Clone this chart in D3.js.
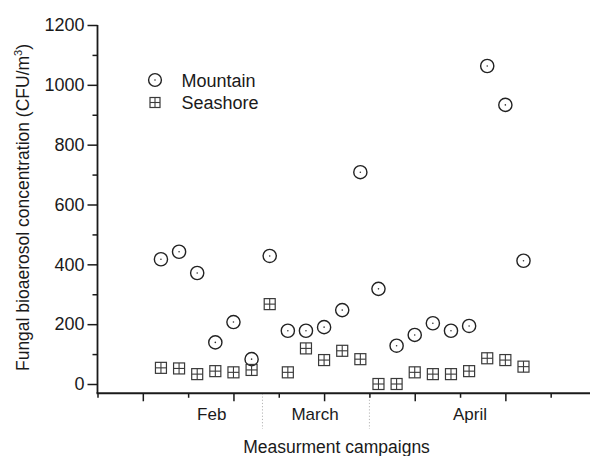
<!DOCTYPE html>
<html>
<head>
<meta charset="utf-8">
<script src="https://cdn.jsdelivr.net/npm/d3@7/dist/d3.min.js"></script>
<style>
  html, body { margin: 0; padding: 0; background: #fff; }
  svg { display: block; }
  text { font-family: "Liberation Sans", Arial, sans-serif; fill: #1a1a1a; }
</style>
</head>
<body>
<svg id="chart" width="590" height="456"></svg>
<script>
// ---- data ----
const campaigns = [1, 2, 3, 4, 5, 6, 7, 8, 9, 10, 11, 12, 13, 14, 15, 16, 17, 18, 19, 20, 21];
const mountain  = [417, 442, 371, 139, 207, 83, 428, 178, 178, 190, 247, 708, 318, 128, 164, 203, 178, 194, 1063, 933, 412];
const seashore  = [54, 52, 33, 43, 39, 47, 267, 39, 119, 80, 111, 83, 0, 0, 39, 33, 33, 43, 86, 80, 58];
const yTicks    = [0, 200, 400, 600, 800, 1000, 1200];
const months    = ["Feb", "March", "April"];
const monthPos  = [3.8, 9.5, 18.05];
const separators = [6.6, 12.5];

// ---- layout ----
const svg = d3.select("#chart");
const x = d3.scaleLinear().domain([-2.5, 25]).range([97.5, 596]);
const y = d3.scaleLinear().domain([0, 1200]).range([384, 25]);
const yBottom = y(-31);
const axisColor = "#1a1a1a";

// separators (dotted)
svg.selectAll("line.sep").data(separators).enter().append("line")
  .attr("x1", d => x(d)).attr("x2", d => x(d))
  .attr("y1", yBottom).attr("y2", 429)
  .attr("stroke", "#b5b5b5").attr("stroke-width", 1)
  .attr("stroke-dasharray", "1.2,2");

// X axis
const xAxisG = svg.append("g").attr("transform", `translate(0,${yBottom})`);
const xMajor = d3.range(0, 26, 5);
const xMinor = d3.range(-2.5, 26, 5);
xAxisG.call(d3.axisBottom(x).tickValues(xMajor).tickSize(8).tickFormat(""))
  .call(g => g.select(".domain").remove());
xAxisG.append("g").call(d3.axisBottom(x).tickValues(xMinor).tickSize(4.5).tickFormat(""))
  .call(g => g.select(".domain").remove());
xAxisG.selectAll("line").attr("stroke", axisColor).attr("stroke-width", 1.5);
xAxisG.append("line").attr("x1", x(-2.5) - 1).attr("x2", 590).attr("y1", 0).attr("y2", 0)
  .attr("stroke", axisColor).attr("stroke-width", 1.8);

// Y axis
const yAxisG = svg.append("g").attr("transform", `translate(${x(-2.5)},0)`);
yAxisG.call(d3.axisLeft(y).tickValues(yTicks).tickSize(10).tickPadding(3).tickFormat(d3.format("d")))
  .call(g => g.select(".domain").remove());
yAxisG.selectAll("text").style("font-size", "18px").style("font-family", "Liberation Sans, Arial, sans-serif")
  .attr("fill", "#1a1a1a");
const yMinor = d3.range(100, 1200, 200);
yAxisG.append("g").call(d3.axisLeft(y).tickValues(yMinor).tickSize(5).tickFormat(""))
  .call(g => g.select(".domain").remove());
yAxisG.selectAll("line").attr("stroke", axisColor).attr("stroke-width", 1.5);
yAxisG.append("line").attr("x1", 0).attr("x2", 0).attr("y1", y(1200)).attr("y2", yBottom)
  .attr("stroke", axisColor).attr("stroke-width", 1.8);

// Month labels
svg.selectAll("text.month").data(months).enter().append("text")
  .attr("x", (d, i) => x(monthPos[i])).attr("y", 420)
  .attr("text-anchor", "middle").style("font-size", "17px").text(d => d);

// Axis titles
svg.append("text").attr("x", 336.5).attr("y", 452.5).attr("text-anchor", "middle")
  .style("font-size", "17.5px").text("Measurment campaigns");
const yt = svg.append("text")
  .attr("transform", "translate(28.5,207.5) rotate(-90)")
  .attr("text-anchor", "middle").style("font-size", "17.5px");
yt.append("tspan").text("Fungal bioaerosol concentration (CFU/m");
yt.append("tspan").attr("dy", -7).style("font-size", "11px").text("3");
yt.append("tspan").attr("dy", 7).text(")");

// marker helpers
function drawCircle(g, cx, cy, r) {
  g.append("circle").attr("cx", cx).attr("cy", cy).attr("r", r)
    .attr("fill", "none").attr("stroke", "#222").attr("stroke-width", 1.4);
  g.append("circle").attr("cx", cx).attr("cy", cy).attr("r", 0.8).attr("fill", "#333");
}
function drawSquare(g, cx, cy, h) {
  g.append("rect").attr("x", cx - h).attr("y", cy - h).attr("width", 2 * h).attr("height", 2 * h)
    .attr("fill", "none").attr("stroke", "#3a3a3a").attr("stroke-width", 1.2);
  g.append("line").attr("x1", cx - h).attr("x2", cx + h).attr("y1", cy).attr("y2", cy)
    .attr("stroke", "#3a3a3a").attr("stroke-width", 1.1);
  g.append("line").attr("x1", cx).attr("x2", cx).attr("y1", cy - h).attr("y2", cy + h)
    .attr("stroke", "#3a3a3a").attr("stroke-width", 1.1);
}

const gM = svg.append("g");
campaigns.forEach((c, i) => drawCircle(gM, x(c), y(mountain[i]), 6.6));
const gS = svg.append("g");
campaigns.forEach((c, i) => drawSquare(gS, x(c), y(seashore[i]), 5.5));

// legend
const lg = svg.append("g");
drawCircle(lg, 155, 80, 6.4);
drawSquare(lg, 155, 102.5, 5);
lg.append("text").attr("x", 181.5).attr("y", 86.5).style("font-size", "18px").text("Mountain");
lg.append("text").attr("x", 181.5).attr("y", 108.5).style("font-size", "18px").text("Seashore");
</script>
</body>
</html>
